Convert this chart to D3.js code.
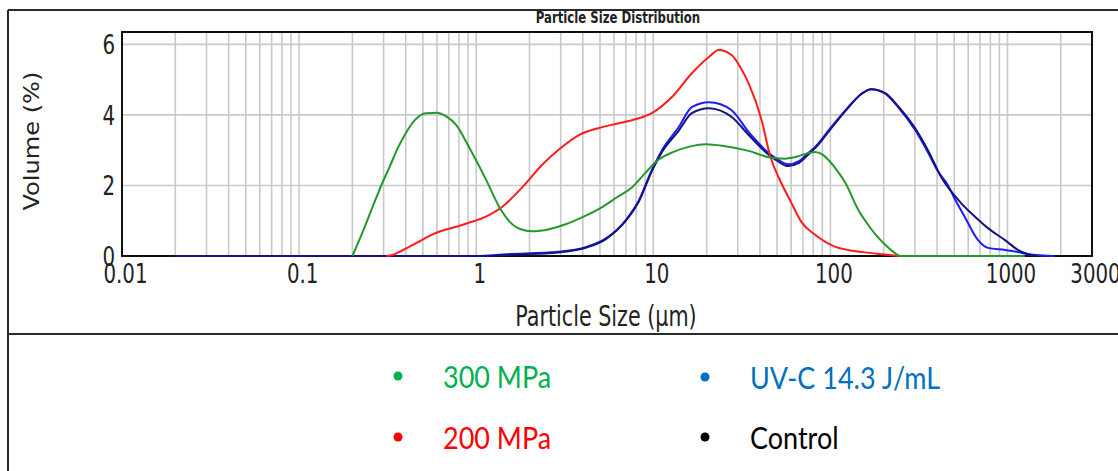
<!DOCTYPE html>
<html>
<head>
<meta charset="utf-8">
<script src="https://cdn.jsdelivr.net/npm/d3@7"></script>
<style>
body{margin:0;background:#fff;}
svg{display:block;}
</style>
</head>
<body>
<div id="idPSD"></div>
<script>
// chart values (particle size in um, volume in %)
var seriesNames=["300 MPa","200 MPa","UV-C 14.3 J/mL","Control"];
var xTickValues=[0.01,0.1,1,10,100,1000,3000];
var yTickValues=[0,2,4,6];

var p300=[[0.2,0],[0.227,0.65],[0.26,1.39],[0.295,2.07],[0.324,2.52],[0.36,3.05],[0.4,3.48],[0.45,3.85],[0.52,4.05],[0.6,4.06],[0.68,3.95],[0.77,3.72],[0.91,3.09],[1.14,2.15],[1.35,1.39],[1.68,0.82],[2.07,0.7],[2.58,0.76],[3.2,0.9],[3.9,1.08],[5.0,1.35],[6.3,1.68],[7.6,1.95],[9,2.35],[10.5,2.7],[13,2.95],[16,3.1],[19.8,3.17],[25,3.12],[34.5,2.98],[45,2.8],[55,2.76],[65,2.82],[75,2.92],[82,2.95],[90,2.88],[97.5,2.72],[110,2.4],[121.6,2.07],[144,1.3],[160,0.95],[179,0.62],[200,0.36],[221,0.16],[248,0],[1250,0]];

var p200=[[0.31,0],[0.337,0.03],[0.37,0.12],[0.46,0.37],[0.57,0.62],[0.83,0.88],[1.18,1.16],[1.4,1.39],[1.83,1.96],[2.35,2.58],[3.05,3.09],[3.8,3.43],[4.93,3.63],[6.2,3.75],[7.57,3.85],[9.8,4.05],[12.7,4.5],[16.5,5.18],[20.6,5.64],[23.4,5.84],[27.7,5.7],[31,5.35],[34.5,4.9],[40.9,3.85],[45.9,2.8],[50.9,2.24],[60.3,1.5],[68.7,0.96],[82,0.6],[106.6,0.26],[126,0.17],[153,0.11],[194,0.05],[248,0]];

var pUV=[[0.02,0],[1.0,0],[1.5,0.05],[2.9,0.12],[4.2,0.26],[5.4,0.5],[7,1.02],[8.3,1.58],[9.8,2.43],[11.2,3.0],[13.9,3.65],[16.5,4.22],[20.6,4.36],[24,4.3],[27.7,4.13],[35,3.48],[43,3.0],[50,2.75],[58,2.6],[66,2.68],[75,2.92],[82,3.09],[101,3.65],[126,4.22],[150,4.6],[170,4.73],[204,4.6],[241,4.22],[301,3.57],[357,2.92],[405,2.4],[462,2.0],[506,1.6],[575,1.1],[682,0.45],[776,0.23],[968,0.17],[1150,0.11],[1350,0.04],[1840,0]];

var pControl=[[0.02,0],[1.0,0],[1.6,0.04],[2.9,0.1],[4.2,0.24],[5.4,0.48],[7,1.0],[8.3,1.55],[9.8,2.4],[11.2,2.95],[13.9,3.55],[16.5,4.05],[20.6,4.19],[24,4.12],[27.7,3.94],[35,3.4],[43,2.95],[50,2.7],[58,2.55],[66,2.63],[75,2.88],[82,3.06],[101,3.62],[126,4.2],[150,4.6],[170,4.73],[204,4.62],[241,4.25],[301,3.62],[357,2.98],[422,2.24],[547,1.5],[660,1.1],[776,0.79],[968,0.45],[1150,0.17],[1300,0.06],[1460,0]];

var lineColors=["#22992a","#ff1c1c","#1c1cff","#14147e"];
var legendColors=["#00b050","#ff0000","#0070c0","#000000"];

function DrawPSD()
{
	var iWidth=1118;
	var iHeight=471;
	var iLeft=122, iRight=1092, iTop=32, iBottom=256;
	var fStretch=1.22;	// picture is stretched vertically
	var sAxisFont="'DejaVu Sans Condensed','DejaVu Sans',sans-serif";

	var mySvg=d3.select("#idPSD").append("svg")
		.attr("width",iWidth)
		.attr("height",iHeight);

	var x=d3.scaleLog().domain([0.01,3000]).range([iLeft,iRight]);
	var y=d3.scaleLinear().domain([0,6.35]).range([iBottom,iTop]);

	// outer frame
	var myFrame=mySvg.append("g").attr("stroke","#2a2a2a").attr("stroke-width",2);
	myFrame.append("line").attr("x1",8).attr("x2",iWidth).attr("y1",10).attr("y2",10);
	myFrame.append("line").attr("x1",8).attr("x2",iWidth).attr("y1",334).attr("y2",334);
	myFrame.append("line").attr("x1",8).attr("x2",8).attr("y1",10).attr("y2",iHeight);

	// grid
	var myGrid=mySvg.append("g").attr("stroke","#c9c9c9").attr("stroke-width",1.6);
	myGrid.selectAll(".vgrid")
		.data(x.ticks().filter(function(d){return d>0.0101 && d<2999;}))
		.enter().append("line")
			.attr("class","vgrid")
			.attr("x1",function(d){return x(d);})
			.attr("x2",function(d){return x(d);})
			.attr("y1",iTop)
			.attr("y2",iBottom);
	myGrid.selectAll(".hgrid")
		.data(yTickValues.filter(function(d){return d>0;}))
		.enter().append("line")
			.attr("class","hgrid")
			.attr("x1",iLeft)
			.attr("x2",iRight)
			.attr("y1",function(d){return y(d);})
			.attr("y2",function(d){return y(d);});

	// plot frame
	mySvg.append("rect")
		.attr("x",iLeft).attr("y",iTop)
		.attr("width",iRight-iLeft).attr("height",iBottom-iTop)
		.attr("fill","none").attr("stroke","#111").attr("stroke-width",2);

	// curves
	var myLine=d3.line()
		.x(function(d){return x(d[0]);})
		.y(function(d){return y(d[1]);})
		.curve(d3.curveMonotoneX);

	var mySeries=[pUV,pControl,p200,p300];
	var mySeriesColors=[lineColors[2],lineColors[3],lineColors[1],lineColors[0]];
	mySvg.append("g").selectAll("path")
		.data(mySeries)
		.enter().append("path")
			.attr("d",myLine)
			.attr("fill","none")
			.attr("stroke",function(d,i){return mySeriesColors[i];})
			.attr("stroke-width",2)
			.attr("stroke-linejoin","round");

	// x axis labels
	var myXAxis=mySvg.append("g")
		.attr("transform","translate(0,"+iBottom+")")
		.call(d3.axisBottom(x).tickValues(xTickValues).tickSize(0).tickFormat(function(d){return String(d);}));
	myXAxis.select(".domain").remove();
	myXAxis.selectAll("text")
		.attr("y",null).attr("dy",null)
		.attr("dominant-baseline","central")
		.attr("transform","translate(3,18) scale(1,"+fStretch+")")
		.attr("fill","#222")
		.style("font-family",sAxisFont)
		.style("font-size","22px");

	// y axis labels
	var myYAxis=mySvg.append("g")
		.attr("transform","translate("+iLeft+",0)")
		.call(d3.axisLeft(y).tickValues(yTickValues).tickSize(0).tickFormat(d3.format("d")));
	myYAxis.select(".domain").remove();
	myYAxis.selectAll("text")
		.attr("x",null).attr("dy",null)
		.attr("dominant-baseline","central")
		.attr("transform","translate(-7,0) scale(1,"+fStretch+")")
		.attr("fill","#222")
		.style("font-family",sAxisFont)
		.style("font-size","22px");

	// titles
	mySvg.append("text")
		.attr("transform","translate(618,23) scale(1,"+fStretch+")")
		.attr("text-anchor","middle")
		.attr("fill","#222")
		.style("font-family",sAxisFont)
		.style("font-weight","bold")
		.style("font-size","13px")
		.text("Particle Size Distribution");

	mySvg.append("text")
		.attr("transform","translate(606,316) scale(1,"+fStretch+")")
		.attr("text-anchor","middle")
		.attr("dominant-baseline","central")
		.attr("fill","#222")
		.style("font-family",sAxisFont)
		.style("font-size","23px")
		.text("Particle Size (\u00b5m)");

	mySvg.append("text")
		.attr("transform","translate(31,141) scale(1,"+fStretch+") rotate(-90)")
		.attr("text-anchor","middle")
		.attr("dominant-baseline","central")
		.attr("fill","#222")
		.style("font-family",sAxisFont)
		.style("font-size","22px")
		.text("Volume (%)");

	// legend
	var myLegendPos=[[398,376],[398,437],[705,377],[705,437]];
	var myLegend=mySvg.append("g").selectAll("g")
		.data(seriesNames)
		.enter().append("g")
			.attr("transform",function(d,i){return "translate("+myLegendPos[i][0]+","+myLegendPos[i][1]+")";});
	myLegend.append("circle")
		.attr("r",4.5)
		.attr("fill",function(d,i){return legendColors[i];});
	myLegend.append("text")
		.attr("transform","translate(45,0) scale(1,1.12)")
		.attr("dominant-baseline","central")
		.attr("fill",function(d,i){return legendColors[i];})
		.style("font-family","Lato,'Open Sans',sans-serif")
		.style("font-size","27px")
		.text(function(d){return d;});
}

DrawPSD();
</script>
</body>
</html>
